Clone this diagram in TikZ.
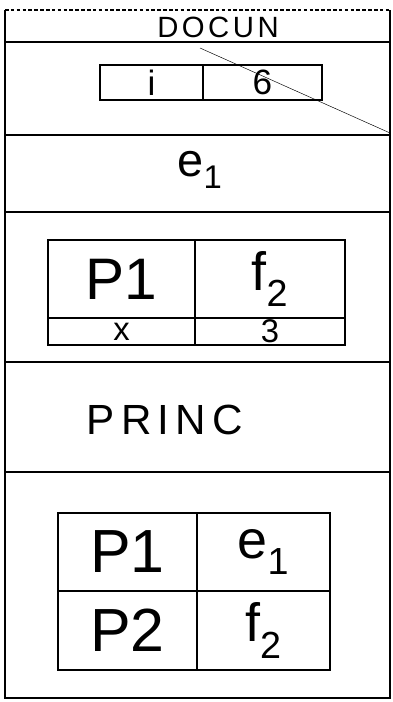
\documentclass[tikz,border=0pt]{standalone}
\usepackage{fontspec}
\setmainfont{Liberation Sans}

\begin{document}
\begin{tikzpicture}[x=0.03cm,y=-0.03cm,
    cell/.style={draw,line width=0.9pt,inner sep=0pt},
    rule/.style={line width=0.9pt}]
    \useasboundingbox (0,0) rectangle (392,702);
    \draw[rule] (5,10) -- (5,698) -- (390,698) -- (390,10);
    \draw[rule,densely dashed] (5,10) -- (390,10);
    \foreach \y in {42,135,212,362,472}
        \draw[rule] (5,\y) -- (390,\y);

    \node[font=\fontsize{25}{27}\selectfont\addfontfeature{LetterSpace=12}] (docun) at (218,27) {DOCUN};
    \node[cell,minimum width=3.09cm,minimum height=1.05cm,font=\fontsize{30}{32}\selectfont] (celli) at (151.5,82.5) {i};
    \node[cell,minimum width=3.57cm,minimum height=1.05cm,font=\fontsize{30}{32}\selectfont] (six) at (262.5,82.5) {6};
    \coordinate (tail) at (200,48);
    \coordinate (edge) at (390,133);
    \draw[thin] (tail) -- (edge);

    \node[font=\fontsize{40}{44}\selectfont] (eone) at (200,170) {e\textsubscript{1}};

    \node[cell,minimum width=4.41cm,minimum height=2.34cm,font=\fontsize{50}{54}\selectfont] (pone) at (121.5,279) {P1};
    \node[cell,minimum width=4.5cm,minimum height=2.34cm,font=\fontsize{46}{50}\selectfont] (ftwo) at (270,279) {f\textsubscript{2}};
    \node[cell,minimum width=4.41cm,minimum height=0.81cm,font=\fontsize{28}{30}\selectfont] (x) at (121.5,331.5) {x};
    \node[cell,minimum width=4.5cm,minimum height=0.81cm,font=\fontsize{28}{30}\selectfont] (three) at (270,331.5) {3};

    \node[font=\fontsize{36}{40}\selectfont\addfontfeature{LetterSpace=15}] (princ) at (165,420) {PRINC};

    \node[cell,minimum width=4.17cm,minimum height=2.34cm,font=\fontsize{52}{56}\selectfont] (ponebis) at (127.5,552) {P1};
    \node[cell,minimum width=3.99cm,minimum height=2.34cm,font=\fontsize{46}{50}\selectfont] (eonebis) at (263.5,552) {e\textsubscript{1}};
    \node[cell,minimum width=4.17cm,minimum height=2.37cm,font=\fontsize{52}{56}\selectfont] (ptwo) at (127.5,630.5) {P2};
    \node[cell,minimum width=3.99cm,minimum height=2.37cm,font=\fontsize{46}{50}\selectfont] (ftwobis) at (263.5,630.5) {f\textsubscript{2}};
\end{tikzpicture}
\end{document}
